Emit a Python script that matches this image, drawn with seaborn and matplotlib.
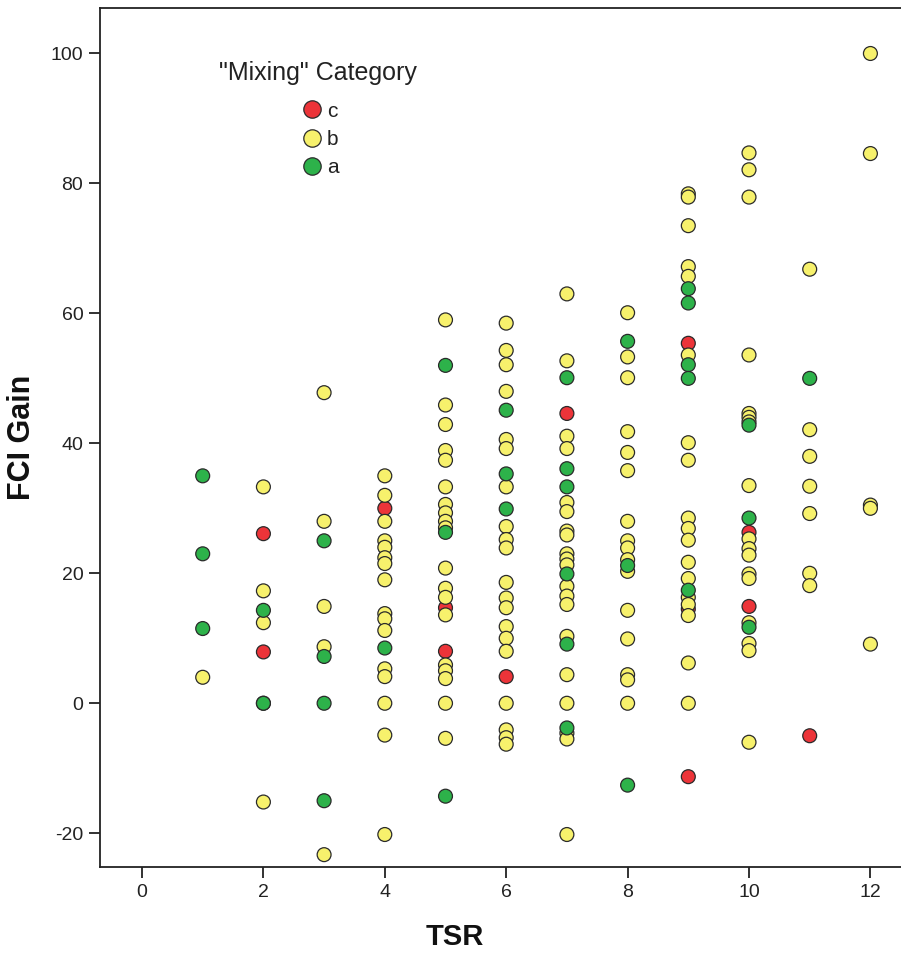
import matplotlib
matplotlib.use("Agg")
import matplotlib.pyplot as plt
from matplotlib.lines import Line2D
import seaborn as sns
import pandas as pd

# TSR / FCI Gain pairs for each "Mixing" category
tsr_c = [2, 2, 4, 5, 5, 6, 7, 9, 9, 9, 10, 10, 11]
gain_c = [26.1, 7.9, 30.0, 14.7, 8.0, 4.1, 44.6, 55.4, 14.5, -11.3, 26.3, 14.9, -5.0]

tsr_b = ([1]
         + [2] * 4
         + [3] * 5
         + [4] * 16
         + [5] * 19
         + [6] * 20
         + [7] * 20
         + [8] * 16
         + [9] * 18
         + [10] * 17
         + [11] * 7
         + [12] * 5)
gain_b = ([4.0]
          + [33.3, 17.3, 12.4, -15.2]
          + [47.8, 28.0, 14.9, 8.7, -23.3]
          + [35.0, 32.0, 28.0, 25.0, 24.0, 22.4, 21.5, 19.0, 13.8, 13.0, 11.2, 5.3, 4.1, 0.0, -4.9, -20.2]
          + [59.0, 45.9, 42.9, 38.9, 37.4, 33.3, 30.6, 29.3, 28.0, 27.0, 20.8, 17.7, 16.3, 13.6, 5.9, 5.0, 3.8, 0.0, -5.4]
          + [58.5, 54.3, 52.1, 48.0, 40.6, 39.2, 33.3, 27.2, 25.2, 23.9, 18.6, 16.2, 14.7, 11.8, 10.0, 8.0, 0.0, -4.1, -5.3, -6.3]
          + [63.0, 52.7, 41.1, 39.2, 30.9, 29.5, 26.5, 25.9, 23.0, 22.2, 21.3, 18.0, 16.5, 15.2, 10.3, 4.4, 0.0, -4.6, -5.5, -20.2]
          + [60.1, 53.3, 50.1, 41.8, 38.6, 35.8, 28.0, 25.0, 23.9, 22.1, 20.3, 14.3, 9.9, 4.4, 3.6, 0.0]
          + [78.4, 77.9, 73.5, 67.2, 65.7, 53.6, 40.1, 37.4, 28.5, 26.9, 25.1, 21.7, 19.2, 16.3, 15.2, 13.5, 6.2, 0.0]
          + [84.7, 82.1, 77.9, 53.6, 44.6, 44.0, 43.3, 33.5, 25.3, 23.8, 22.8, 19.9, 19.2, 12.4, 9.2, 8.1, -6.0]
          + [66.8, 42.1, 38.0, 33.4, 29.2, 20.0, 18.1]
          + [100.0, 84.6, 30.5, 30.0, 9.1])

tsr_a = ([1] * 3
         + [2] * 3
         + [3] * 4
         + [4]
         + [5] * 3
         + [6] * 3
         + [7] * 6
         + [8] * 3
         + [9] * 5
         + [10] * 3
         + [11])
gain_a = ([35.0, 23.0, 11.5]
          + [14.3, 0.0, 0.0]
          + [25.0, 7.2, 0.0, -15.0]
          + [8.5]
          + [52.0, 26.3, -14.3]
          + [45.1, 35.3, 29.9]
          + [50.1, 36.1, 33.3, 19.9, 9.1, -3.8]
          + [55.7, 21.2, -12.6]
          + [63.8, 61.6, 52.1, 50.0, 17.4]
          + [42.8, 28.5, 11.7]
          + [50.0])

categories = ["c", "b", "a"]
colors = ["#EC3439", "#F7F16C", "#2DB24A"]
x_ticks = [0, 2, 4, 6, 8, 10, 12]
y_ticks = [-20, 0, 20, 40, 60, 80, 100]

df = pd.concat([
    pd.DataFrame({"TSR": tsr_c, "FCI Gain": gain_c, "Mixing": "c"}),
    pd.DataFrame({"TSR": tsr_b, "FCI Gain": gain_b, "Mixing": "b"}),
    pd.DataFrame({"TSR": tsr_a, "FCI Gain": gain_a, "Mixing": "a"}),
], ignore_index=True)

sns.set_theme(style="white")
plt.rcParams["font.family"] = ["Liberation Sans", "DejaVu Sans"]
plt.rcParams["axes.unicode_minus"] = False

W, H = 901, 955
AX_L, AX_R, AX_T, AX_B = 100, 901, 8, 867
fig = plt.figure(figsize=(W / 100, H / 100), dpi=100)
ax = fig.add_axes([AX_L / W, (H - AX_B) / H, (AX_R - AX_L) / W, (AX_B - AX_T) / H])


def axfrac(px, py):
    """Pixel position in the figure -> axes fraction."""
    return (px - AX_L) / (AX_R - AX_L), (AX_B - py) / (AX_B - AX_T)


palette = dict(zip(categories, colors))
sns.scatterplot(data=df, x="TSR", y="FCI Gain", hue="Mixing", hue_order=categories,
                palette=palette, s=100, edgecolor="#2a2a2a", linewidth=0.9,
                legend=False, ax=ax, zorder=3)

ax.set_xlim(-0.692, 12.504)
ax.set_ylim(-25.2, 107.0)
ax.set_xticks(x_ticks)
ax.set_yticks(y_ticks)

for side in ["left", "bottom", "top"]:
    ax.spines[side].set_color("#222222")
    ax.spines[side].set_linewidth(1.3)
ax.spines["right"].set_visible(False)

ax.tick_params(axis="both", direction="out", length=8, width=1.3, color="#222222",
               labelsize=14, labelcolor="#222222", pad=4,
               left=True, bottom=True)

ax.set_xlabel("TSR", fontsize=21, fontweight="bold", color="#111111")
ax.set_ylabel("FCI Gain", fontsize=22, fontweight="bold", color="#111111")
ax.xaxis.set_label_coords(*axfrac(455, 923))
ax.yaxis.set_label_coords(axfrac(37, 0)[0], 0.5)

# legend: centred title above a block of three entries
ax.text(*axfrac(318, 73), '"Mixing" Category', transform=ax.transAxes,
        ha="center", va="center", fontsize=18, color="#222222")
handles = [Line2D([0], [0], marker="o", linestyle="none", markersize=12.5,
                  markerfacecolor=col, markeredgecolor="#2a2a2a", markeredgewidth=0.9)
           for col in colors]
leg = ax.legend(handles, categories, loc="center left",
                bbox_to_anchor=axfrac(303, 139.5),
                frameon=False, fontsize=15,
                handlelength=0.85, handletextpad=0.3, labelspacing=0.45,
                borderpad=0.0, borderaxespad=0.0)
for t in leg.get_texts():
    t.set_color("#222222")

fig.savefig("out.png", dpi=100, facecolor="white")
